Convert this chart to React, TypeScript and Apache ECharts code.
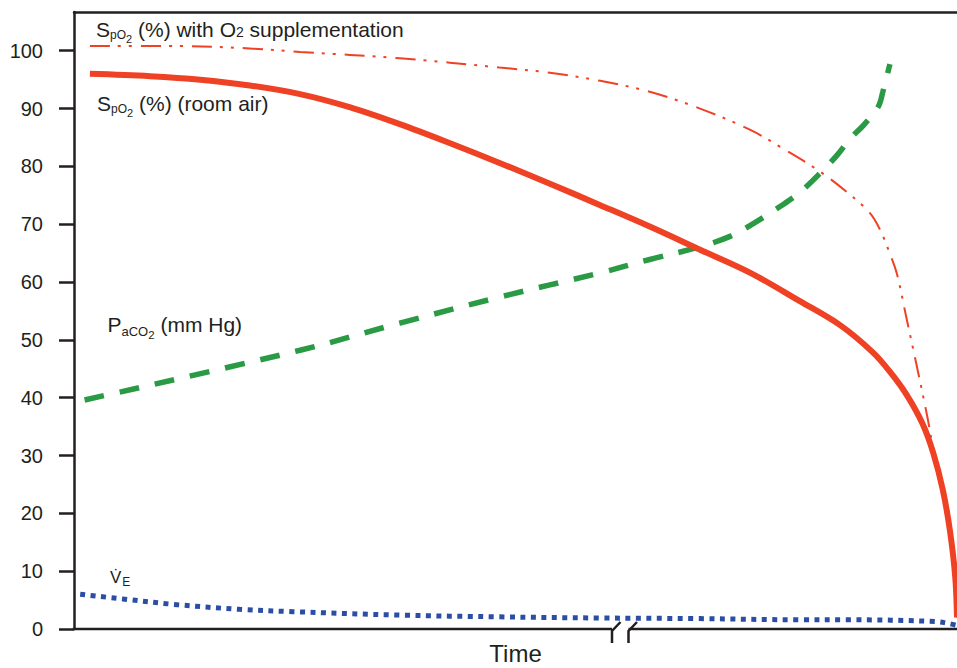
import React, { useEffect, useRef } from "react";
import * as echarts from "echarts";

// y-axis tick labels
const yTicks = [0, 10, 20, 30, 40, 50, 60, 70, 80, 90, 100];

// SpO2 (%) room air
const roomAirTime = [1.8, 8.6, 14.3, 19.9, 25.6, 31.3, 36.9, 42.6, 48.2, 53.9, 59.6, 65.2, 70.9, 76.6, 82.2, 86.8, 90.5, 92.4, 94.3, 96.1, 97.3, 98.4, 99.2, 99.8, 100];
const roomAirSpo2 = [96.0, 95.6, 95.0, 94.0, 92.5, 90.2, 87.3, 84.0, 80.6, 77.0, 73.3, 69.6, 65.6, 61.6, 56.7, 52.5, 47.8, 44.5, 40.5, 35.5, 30.5, 24.0, 17.0, 9.0, 2.0];

// SpO2 (%) with O2 supplementation
const o2Time = [1.8, 12.0, 19.9, 25.6, 36.9, 48.2, 53.9, 59.6, 65.2, 70.9, 76.6, 80.5, 84.3, 87.5, 90.1, 91.3, 92.4, 93.2, 94.3, 95.5, 96.6, 97.4, 98.4, 99.2, 99.8, 100];
const o2Spo2 = [100.8, 100.8, 100.4, 99.8, 98.7, 97.1, 96.2, 94.8, 92.9, 90.0, 86.3, 82.9, 79.3, 75.6, 72.0, 69.0, 64.9, 61.4, 53.6, 45.1, 37.0, 30.5, 24.0, 17.0, 9.0, 2.0];

// PaCO2 (mm Hg)
const co2Time = [1.2, 25.6, 36.9, 48.2, 59.6, 65.2, 70.9, 74.3, 76.6, 80.0, 82.2, 84.8, 86.4, 87.9, 89.4, 91.1, 91.6, 92.4];
const paco2 = [39.6, 48.2, 52.9, 57.4, 61.6, 63.9, 66.1, 67.9, 69.8, 73.1, 75.5, 79.3, 81.9, 84.8, 87.1, 90.4, 92.9, 97.7];

// Minute ventilation (VE)
const veTime = [0.7, 5.5, 11.7, 18.8, 24.8, 36.9, 48.2, 59.6, 70.9, 82.2, 87.5, 97.5, 99.2, 100];
const ve = [6.0, 5.2, 4.2, 3.4, 3.0, 2.4, 2.1, 1.9, 1.8, 1.6, 1.6, 1.3, 0.9, 0.6];

const zip = (xs: number[], ys: number[]) => xs.map((x, i) => [x, ys[i]]);

const FONT = "'Liberation Sans', Arial, Helvetica, sans-serif";
const INK = "#231f20";
const RED = "#ef4123";
const GREEN = "#2a9a44";
const BLUE = "#2b4ea5";

export default function App() {
  const ref = useRef<HTMLDivElement>(null);

  useEffect(() => {
    const chart = echarts.init(ref.current!, null, { renderer: "svg" });

    const m = { fontSize: 21, lineHeight: 24, fontFamily: FONT, fill: INK };
    const sub = { fontSize: 12, height: 12.8, verticalAlign: "bottom", fontFamily: FONT, fill: INK };
    const subsub = { fontSize: 11, height: 5, verticalAlign: "bottom", fontFamily: FONT, fill: INK };
    const small2 = { fontSize: 14, height: 19, verticalAlign: "bottom", fontFamily: FONT, fill: INK };

    chart.setOption({
      animation: false,
      backgroundColor: "#ffffff",
      grid: { left: 74, right: 0, top: 12, bottom: 39, containLabel: false, outerBoundsMode: "none" },
      xAxis: [
        {
          type: "value",
          min: 0,
          max: 100,
          axisLine: { show: false },
          axisTick: { show: false },
          axisLabel: { show: false },
          splitLine: { show: false },
          name: "Time",
          nameLocation: "middle",
          nameGap: 13,
          nameTextStyle: { fontSize: 24, lineHeight: 22, color: INK, fontFamily: FONT },
        },
        {
          type: "value",
          position: "top",
          min: 0,
          max: 100,
          axisLine: { show: true, lineStyle: { color: INK, width: 2.5 } },
          axisTick: { show: false },
          axisLabel: { show: false },
          splitLine: { show: false },
        },
      ],
      yAxis: {
        type: "value",
        min: 0,
        max: 106.7,
        axisLine: { show: true, lineStyle: { color: INK, width: 2.5 } },
        axisTick: {
          show: true,
          length: 15,
          customValues: yTicks,
          lineStyle: { color: INK, width: 2.5 },
        },
        axisLabel: {
          customValues: yTicks,
          margin: 31,
          fontSize: 20,
          color: INK,
          fontFamily: FONT,
        },
        splitLine: { show: false },
      },
      series: [
        {
          type: "line",
          name: "PaCO2",
          data: zip(co2Time, paco2),
          showSymbol: false,
          symbol: "none",
          smooth: 0.35,
          lineStyle: { color: GREEN, width: 5.5, type: [20, 16], cap: "butt" },
          z: 2,
        },
        {
          type: "line",
          name: "VE",
          data: zip(veTime, ve),
          showSymbol: false,
          symbol: "none",
          smooth: 0.35,
          lineStyle: { color: BLUE, width: 5, type: [5, 5.5], cap: "butt" },
          z: 2,
        },
        {
          type: "line",
          name: "SpO2 room air",
          data: zip(roomAirTime, roomAirSpo2),
          showSymbol: false,
          symbol: "none",
          smooth: 0.35,
          lineStyle: { color: RED, width: 6 },
          z: 3,
        },
        {
          type: "line",
          name: "SpO2 with O2",
          data: zip(o2Time, o2Spo2),
          showSymbol: false,
          symbol: "none",
          smooth: 0.35,
          lineStyle: { color: RED, width: 2, type: [20, 8, 3, 8, 3, 9], cap: "butt" },
          z: 4,
        },
      ],
      graphic: [
        // x-axis line with break marks
        { type: "line", z: 100, shape: { x1: 72.75, y1: 629, x2: 612, y2: 629 }, style: { stroke: INK, lineWidth: 2.5 } },
        { type: "polyline", z: 100, shape: { points: [[612, 643], [612, 631], [620.5, 622]] }, style: { stroke: INK, lineWidth: 2.5, fill: null } },
        { type: "polyline", z: 100, shape: { points: [[628.5, 643], [628.5, 631], [637, 622]] }, style: { stroke: INK, lineWidth: 2.5, fill: null } },
        { type: "line", z: 100, shape: { x1: 628.5, y1: 629, x2: 957, y2: 629 }, style: { stroke: INK, lineWidth: 2.5 } },
        // annotations
        {
          type: "text",
          z: 100,
          style: {
            x: 96,
            y: 17.4,
            verticalAlign: "top",
            text: "{m|S}{s|pO}{ss|2}{m| (%) with O}{t|2}{m| supplementation}",
            rich: { m, s: sub, ss: subsub, t: small2 },
          },
        },
        {
          type: "text",
          z: 100,
          style: {
            x: 97,
            y: 91.4,
            verticalAlign: "top",
            text: "{m|S}{s|pO}{ss|2}{m| (%) (room air)}",
            rich: { m, s: sub, ss: subsub },
          },
        },
        {
          type: "text",
          z: 100,
          style: {
            x: 107.5,
            y: 312.4,
            verticalAlign: "top",
            text: "{m|P}{s|aCO}{ss|2}{m| (mm Hg)}",
            rich: {
              m,
              s: { fontSize: 13, height: 9.8, verticalAlign: "bottom", fontFamily: FONT, fill: INK },
              ss: { fontSize: 11.5, height: 2.8, verticalAlign: "bottom", fontFamily: FONT, fill: INK },
            },
          },
        },
        {
          type: "text",
          z: 100,
          style: {
            x: 110,
            y: 567.4,
            verticalAlign: "top",
            text: "{v|V\u0307}{e|E}",
            rich: {
              v: { fontSize: 17, lineHeight: 20, fontFamily: FONT, fill: INK },
              e: { fontSize: 12, height: 11.8, verticalAlign: "bottom", fontFamily: FONT, fill: INK, padding: [0, 0, 0, 1] },
            },
          },
        },
      ],
    });

    return () => chart.dispose();
  }, []);

  return (
    <div
      ref={ref}
      style={{ position: "fixed", left: 0, top: 0, width: 957, height: 668, background: "#fff" }}
    />
  );
}
